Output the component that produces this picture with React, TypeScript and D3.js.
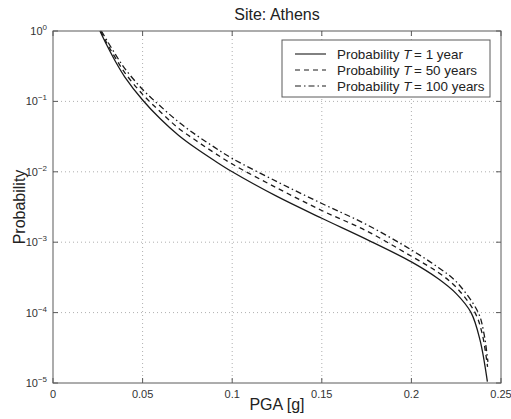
import React from "react";
import * as d3 from "d3";

const xTicks = [0, 0.05, 0.1, 0.15, 0.2, 0.25];
const xTickLabels = ["0", "0.05", "0.1", "0.15", "0.2", "0.25"];
const yExponents = [0, -1, -2, -3, -4, -5];

// PGA [g] and log10(probability)
const pgaT1 = [0.0262, 0.03, 0.035, 0.04, 0.05, 0.06, 0.07, 0.08, 0.09, 0.1, 0.125, 0.15, 0.175, 0.2, 0.215, 0.225, 0.2333, 0.2383, 0.2424];
const logT1 = [0, -0.2, -0.44, -0.65, -0.98, -1.25, -1.48, -1.67, -1.84, -2.0, -2.35, -2.66, -2.96, -3.28, -3.52, -3.73, -4.0, -4.39, -4.98];

const pgaT50 = [0.0265, 0.03, 0.035, 0.04, 0.05, 0.06, 0.07, 0.08, 0.09, 0.1, 0.125, 0.15, 0.175, 0.2, 0.215, 0.225, 0.2355, 0.2395, 0.2425];
const logT50 = [0, -0.17, -0.39, -0.59, -0.9, -1.15, -1.38, -1.56, -1.73, -1.89, -2.23, -2.55, -2.84, -3.2, -3.43, -3.64, -4.0, -4.3, -4.77];

const pgaT100 = [0.027, 0.03, 0.035, 0.04, 0.05, 0.06, 0.07, 0.08, 0.09, 0.1, 0.125, 0.15, 0.175, 0.2, 0.215, 0.225, 0.2373, 0.2405, 0.2427];
const logT100 = [0, -0.13, -0.34, -0.53, -0.83, -1.07, -1.29, -1.48, -1.65, -1.81, -2.14, -2.45, -2.75, -3.11, -3.36, -3.56, -4.0, -4.3, -4.7];

const seriesNames = ["1 year", "50 years", "100 years"];
const dashes = ["none", "5,4", "6,3,1.5,3"];

const W = 511, H = 419;
const L = 53, R = 501, T = 31, B = 383;
const FONT = "'Liberation Sans', Arial, Helvetica, sans-serif";

export default function App() {
  const x = d3.scaleLinear().domain([0, 0.25]).range([L, R]);
  const y = d3.scaleLog().domain([1e-5, 1]).range([B, T]);
  const line = d3
    .line<[number, number]>()
    .x((d) => x(d[0]))
    .y((d) => y(Math.pow(10, d[1])))
    .curve(d3.curveCatmullRom.alpha(0.5));

  const series = [
    pgaT1.map((p, i) => [p, logT1[i]] as [number, number]),
    pgaT50.map((p, i) => [p, logT50[i]] as [number, number]),
    pgaT100.map((p, i) => [p, logT100[i]] as [number, number]),
  ];

  const frame = "#5a5a5a";
  const grid = "#9a9a9a";
  const txt = "#333";

  return (
    <svg width={W} height={H} style={{ position: "absolute", left: 0, top: 0, background: "#fff" }} fontFamily={FONT}>
      <rect x={0} y={0} width={W} height={H} fill="#fff" />
      {/* grid */}
      {xTicks.slice(1, -1).map((t) => (
        <line key={"gx" + t} x1={x(t)} x2={x(t)} y1={T} y2={B} stroke={grid} strokeWidth={0.8} strokeDasharray="1,3" />
      ))}
      {yExponents.slice(1, -1).map((e) => (
        <line key={"gy" + e} x1={L} x2={R} y1={y(Math.pow(10, e))} y2={y(Math.pow(10, e))} stroke={grid} strokeWidth={0.8} strokeDasharray="1,3" />
      ))}
      {/* ticks */}
      {xTicks.map((t) => (
        <g key={"tx" + t}>
          <line x1={x(t)} x2={x(t)} y1={B} y2={B - 5} stroke={frame} />
          <line x1={x(t)} x2={x(t)} y1={T} y2={T + 5} stroke={frame} />
        </g>
      ))}
      {yExponents.map((e) => (
        <g key={"ty" + e}>
          <line x1={L} x2={L + 5} y1={y(Math.pow(10, e))} y2={y(Math.pow(10, e))} stroke={frame} />
          <line x1={R} x2={R - 5} y1={y(Math.pow(10, e))} y2={y(Math.pow(10, e))} stroke={frame} />
        </g>
      ))}
      {/* curves */}
      <g>
        {series.map((s, i) => (
          <path key={"s" + i} d={line(s) || ""} fill="none" stroke="#1a1a1a" strokeWidth={1.3} strokeDasharray={dashes[i]} />
        ))}
      </g>
      {/* frame */}
      <rect x={L} y={T} width={R - L} height={B - T} fill="none" stroke={frame} strokeWidth={1} />
      {/* tick labels */}
      {xTicks.map((t, i) => (
        <text key={"lx" + t} x={x(t)} y={B + 15} textAnchor="middle" fontSize={11} fill={txt}>
          {xTickLabels[i]}
        </text>
      ))}
      {yExponents.map((e) => (
        <text key={"ly" + e} x={L - 6} y={y(Math.pow(10, e)) + 4} textAnchor="end" fontSize={11} fill={txt}>
          10
          <tspan dy={-5} fontSize={8}>{e === 0 ? "0" : "\u2212" + Math.abs(e)}</tspan>
        </text>
      ))}
      {/* title and labels */}
      <text x={(L + R) / 2} y={20} textAnchor="middle" fontSize={16} fill="#222">Site: Athens</text>
      <text x={(L + R) / 2} y={410} textAnchor="middle" fontSize={16} fill="#222">PGA [g]</text>
      <text transform={`translate(25, ${(T + B) / 2}) rotate(-90)`} textAnchor="middle" fontSize={16} fill="#222">Probability</text>
      {/* legend */}
      <g>
        <rect x={282} y={40} width={208} height={57} fill="#fff" stroke={frame} strokeWidth={1} />
        {seriesNames.map((n, i) => (
          <g key={"lg" + i}>
            <line x1={295} x2={326} y1={54 + i * 16} y2={54 + i * 16} stroke="#1a1a1a" strokeWidth={1.1} strokeDasharray={dashes[i]} />
            <text x={337} y={59 + i * 16} fontSize={13.4} fill="#222">
              Probability <tspan fontStyle="italic">T</tspan>{"\u2009= "}{n}
            </text>
          </g>
        ))}
      </g>
    </svg>
  );
}
